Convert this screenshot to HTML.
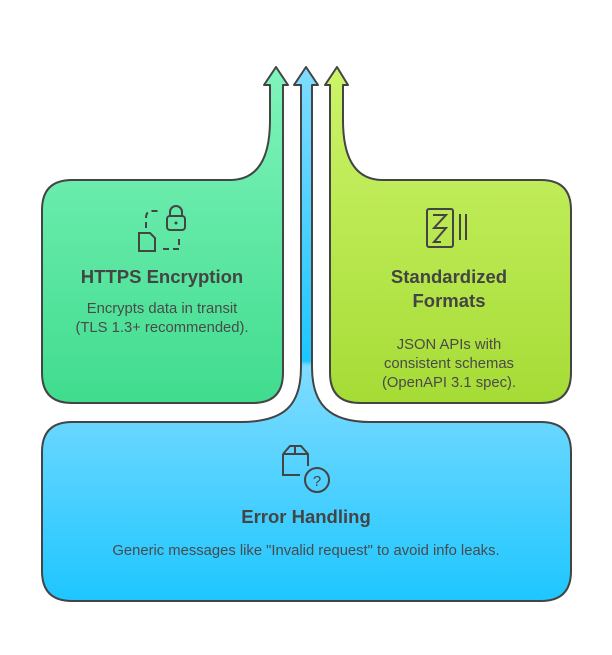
<!DOCTYPE html>
<html><head><meta charset="utf-8"><style>
html,body{margin:0;padding:0;background:#fff}
svg{display:block}
text{font-family:"Liberation Sans",sans-serif;fill:#444}
.t{font-size:18.5px;font-weight:bold;text-anchor:middle}
.d{font-size:14.8px;text-anchor:middle;fill:#4a4a4a}
</style></head><body>
<svg width="612" height="655" viewBox="0 0 612 655">
<defs>
<linearGradient id="g" x1="0" y1="0" x2="0" y2="1"><stop offset="0" stop-color="#80f4bc"/><stop offset="1" stop-color="#40dc8e"/></linearGradient>
<linearGradient id="y" x1="0" y1="0" x2="0" y2="1"><stop offset="0" stop-color="#ccf46a"/><stop offset="1" stop-color="#a6dc36"/></linearGradient>
<linearGradient id="b" gradientUnits="userSpaceOnUse" x1="0" y1="67" x2="0" y2="601"><stop offset="0" stop-color="#80dcff"/><stop offset="0.55" stop-color="#1ec6ff"/><stop offset="0.56" stop-color="#80dcff"/><stop offset="1" stop-color="#1ec6ff"/></linearGradient>
</defs>
<g stroke="#444" stroke-width="2" stroke-linejoin="round">
<path fill="url(#g)" d="M72,180 H230 C258,180 270,158 270,120 V85 H264 L276,67 L288,85 H283 V373 Q283,403 253,403 H72 Q42,403 42,373 V210 Q42,180 72,180 Z"/>
<path fill="url(#y)" d="M343,85 H348 L337,67 L325,85 H330 V373 Q330,403 360,403 H541 Q571,403 571,373 V210 Q571,180 541,180 H383 C355,180 343,158 343,120 Z"/>
<path fill="url(#b)" d="M301,85 H294 L306,67 L318,85 H312 V367 C312,405 330,422 370,422 H541 Q571,422 571,452 V571 Q571,601 541,601 H72 Q42,601 42,571 V452 Q42,422 72,422 H240 C285,422 301,405 301,367 Z"/>
</g>
<g fill="none" stroke="#444" stroke-width="2">
<path d="M146,228 V218 Q146,211 152,211 H160" stroke-dasharray="6,4"/>
<rect x="167" y="216" width="18" height="14" rx="3"/>
<path d="M170,216 V212 a6,6 0 0 1 12,0 V216"/>
<path d="M139,233 H150 L155,238 V251 H139 Z"/>
<path d="M163,249 H179 V236" stroke-dasharray="6,4"/>
<rect x="427" y="209" width="26" height="38" rx="2"/>
<path d="M433,215 H446 L434,228 H446 L434,242 H441"/>
<path d="M460,214 V240 M466,214 V240"/>
<path d="M283,454 L290,446 H301 L308,454 V466 M283,454 V475 H300 M295,446 V454 M283,454 H308"/>
<circle cx="317" cy="480" r="12"/>
</g>
<circle cx="176" cy="223" r="1.5" fill="#444"/>
<text x="317" y="486" style="font-size:15px;text-anchor:middle;fill:#444">?</text>
<text class="t" x="162" y="283">HTTPS Encryption</text>
<text class="d" x="162" y="313">Encrypts data in transit</text>
<text class="d" x="162" y="332">(TLS 1.3+ recommended).</text>
<text class="t" x="449" y="283">Standardized</text>
<text class="t" x="449" y="307">Formats</text>
<text class="d" x="449" y="349">JSON APIs with</text>
<text class="d" x="449" y="368">consistent schemas</text>
<text class="d" x="449" y="387">(OpenAPI 3.1 spec).</text>
<text class="t" x="306" y="523">Error Handling</text>
<text class="d" x="306" y="555">Generic messages like "Invalid request" to avoid info leaks.</text>
</svg>
</body></html>
